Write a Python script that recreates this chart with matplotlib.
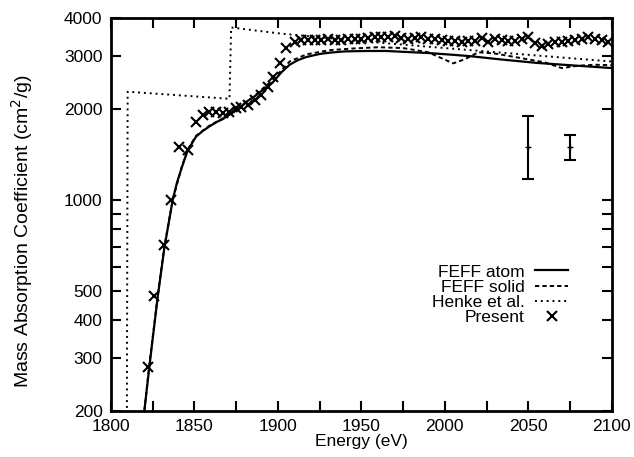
import matplotlib.pyplot as plt
import matplotlib.ticker as ticker

plt.rcParams['font.family'] = ['Liberation Sans', 'DejaVu Sans']
plt.rcParams['font.size'] = 12.5

# FEFF atom (solid line)
atomEnergy = [1820, 1823, 1828, 1832, 1837, 1839.5, 1842.5, 1846, 1851, 1855, 1859, 1863.5, 1867,
              1872, 1876, 1881, 1886, 1890, 1897, 1902, 1907, 1912, 1917, 1925, 1931, 1940,
              1953, 1965, 1975, 1991, 2005, 2015, 2035, 2055, 2075, 2100]
atomMu = [200, 280, 477, 694, 1000, 1138, 1283, 1460, 1620, 1690, 1750, 1812, 1850,
          1930, 1990, 2110, 2200, 2290, 2450, 2640, 2800, 2900, 2970, 3040, 3070, 3100,
          3110, 3110, 3090, 3060, 3020, 2990, 2910, 2840, 2790, 2730]

# FEFF solid (dashed line)
solidEnergy = [1820, 1823, 1828, 1832, 1837, 1842.5, 1846, 1851, 1859, 1867, 1876, 1886,
               1897, 1907, 1917, 1931, 1945, 1960, 1975, 1990, 1997, 2005, 2012, 2020,
               2030, 2045, 2060, 2070, 2080, 2090, 2100]
solidMu = [200, 285, 480, 700, 1000, 1290, 1470, 1630, 1760, 1860, 2000, 2210,
           2500, 2870, 3030, 3130, 3170, 3200, 3180, 3080, 2960, 2830, 2920, 3080,
           3050, 2950, 2850, 2730, 2780, 2800, 2790]

# Henke et al. (dotted line)
henkeEnergy = [1809.5, 1810, 1871, 1872, 1900, 1950, 2000, 2050, 2100]
henkeMu = [150, 2280, 2160, 3720, 3560, 3350, 3180, 3020, 2870]

# Present measurement (crosses)
presentEnergy = [1822, 1826, 1832, 1836, 1841, 1846, 1851, 1855, 1859, 1863, 1867, 1871,
                 1875, 1878, 1882, 1886, 1890, 1894, 1897, 1901, 1905, 1910, 1914, 1918,
                 1922, 1926, 1930, 1934, 1938, 1942, 1946, 1950, 1954, 1958, 1962, 1966,
                 1970, 1974, 1978, 1982, 1986, 1990, 1994, 1998, 2002, 2006, 2010, 2014,
                 2018, 2022, 2026, 2030, 2034, 2038, 2042, 2046, 2050, 2054, 2058, 2062,
                 2066, 2070, 2074, 2078, 2082, 2086, 2090, 2094, 2098]
presentMu = [280, 480, 710, 1000, 1500, 1460, 1810, 1910, 1960, 1960, 1940, 1960,
             2010, 2030, 2060, 2140, 2230, 2370, 2550, 2840, 3180, 3330, 3380, 3380,
             3380, 3380, 3400, 3380, 3380, 3400, 3400, 3420, 3440, 3470, 3470, 3450,
             3480, 3440, 3400, 3430, 3450, 3420, 3400, 3380, 3360, 3350, 3340, 3350,
             3360, 3440, 3340, 3420, 3380, 3360, 3350, 3420, 3470, 3300, 3240, 3280,
             3320, 3340, 3360, 3380, 3420, 3460, 3420, 3380, 3330]

# typical error bars
errEnergy = [2050, 2075]
errMu = [1500, 1500]
errLow = [325, 144]
errHigh = [400, 140]

fig = plt.figure(figsize=(6.34, 4.57), dpi=100)
ax = fig.add_axes([0.175, 0.1007, 0.79, 0.86])

ax.plot(atomEnergy, atomMu, color='black', lw=1.6, label='FEFF atom')
ax.plot(solidEnergy, solidMu, color='black', lw=1.4, linestyle=(0, (2.2, 1.6)), label='FEFF solid')
ax.plot(henkeEnergy, henkeMu, color='black', lw=1.4, linestyle=(0, (1, 2)), label='Henke et al.')
ax.plot(presentEnergy, presentMu, 'x', color='black', ms=7, mew=1.5, label='Present')
ax.errorbar(errEnergy, errMu, yerr=[errLow, errHigh], fmt='+', color='black', ms=5,
            elinewidth=1.5, capsize=4, capthick=1.5)

ax.set_yscale('log')
ax.set_xlim(1800, 2100)
ax.set_ylim(200, 4000)

ax.xaxis.set_major_locator(ticker.MultipleLocator(50))
ax.xaxis.set_minor_locator(ticker.MultipleLocator(25))
ax.yaxis.set_major_locator(ticker.FixedLocator([200, 300, 400, 500, 1000, 2000, 3000, 4000]))
ax.yaxis.set_minor_locator(ticker.FixedLocator([600, 700, 800, 900]))
ax.yaxis.set_major_formatter(ticker.FormatStrFormatter('%d'))
ax.yaxis.set_minor_formatter(ticker.NullFormatter())
ax.tick_params(which='both', direction='in', top=True, right=True, length=7, width=1.5)
ax.tick_params(which='major', pad=6)

for spine in ax.spines.values():
    spine.set_linewidth(2)

ax.set_xlabel('Energy (eV)', labelpad=0)
ax.set_ylabel('Mass Absorption Coefficient (cm$^2$/g)', fontsize=14)
ax.yaxis.set_label_coords(-0.152, 0.458)

ax.legend(loc='upper right', bbox_to_anchor=(0.93, 0.395), frameon=False, markerfirst=False,
          borderpad=0, labelspacing=0, handlelength=1.9, handletextpad=0.6)

plt.savefig('out.png', dpi=100)
